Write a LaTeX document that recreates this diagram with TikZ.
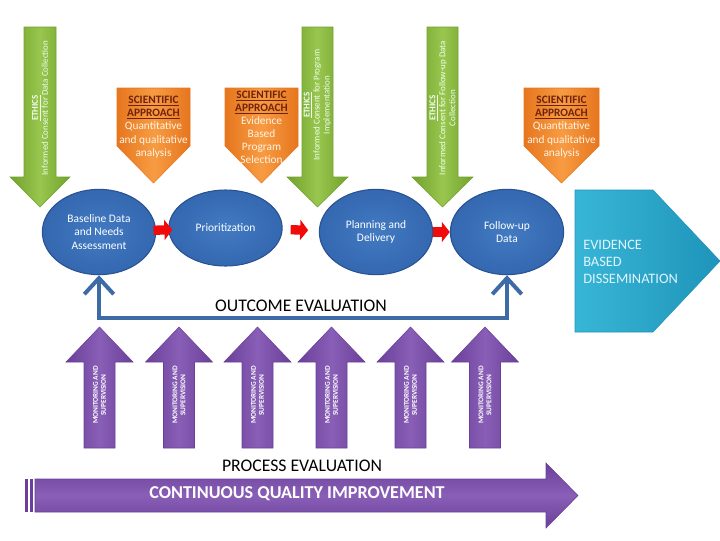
\documentclass[tikz,border=0pt]{standalone}
\usepackage{fontspec}
\setmainfont{Carlito}
\usepackage{tikz}
\usetikzlibrary{arrows.meta,shapes.geometric}

\definecolor{ethicsgreen}{RGB}{152,198,78}
\definecolor{ethicsedge}{RGB}{114,162,46}
\definecolor{sciorange}{RGB}{247,156,66}
\definecolor{sciedge}{RGB}{230,118,30}
\definecolor{scidark}{RGB}{112,34,12}
\definecolor{stepblue}{RGB}{66,122,194}
\definecolor{stepfill}{RGB}{52,104,176}
\definecolor{stepedge}{RGB}{40,82,146}
\definecolor{dissemteal}{RGB}{56,182,214}
\definecolor{dissemedge}{RGB}{30,148,186}
\definecolor{monpurple}{RGB}{136,94,182}
\definecolor{monedge}{RGB}{106,64,154}
\definecolor{outcomeblue}{RGB}{62,106,166}
\definecolor{flowred}{RGB}{240,10,10}

\begin{document}
\begin{tikzpicture}[x=0.75pt,y=0.75pt,yscale=-1,xscale=1,
  ethics/.style={draw=ethicsedge, line width=0.4pt, left color=ethicsedge, right color=ethicsedge, middle color=ethicsgreen},
  ethicstext/.style={rotate=90, align=center, text=white!94!green, font=\fontsize{6.7}{7.5}\selectfont, inner sep=0pt},
  science/.style={draw=sciedge, line width=0.4pt, left color=sciedge, right color=sciedge, middle color=sciorange},
  sciencetext/.style={align=center, text=white!90!orange, font=\fontsize{8.5}{10}\selectfont, inner sep=0pt},
  stepcirc/.style={ellipse, draw=stepedge, line width=0.8pt, inner color=stepblue, outer color=stepfill, minimum width=85pt, minimum height=64pt, align=center, text=white, font=\fontsize{8.6}{9.8}\selectfont, inner sep=0pt},
  flowarrow/.style={draw=flowred, line width=7pt, -{Triangle[length=6pt,width=15pt]}},
  outcome/.style={draw=outcomeblue, line width=3pt, >={Straight Barb[length=12pt,width=22pt]}, <->},
  monitor/.style={draw=monedge, line width=0.4pt, left color=monedge, right color=monedge, middle color=monpurple},
  monitortext/.style={rotate=90, align=center, text=white, font=\fontsize{5.5}{6}\selectfont\bfseries, inner sep=0pt},
  evaltext/.style={text=black, inner sep=0pt}
]
\useasboundingbox (0,0) rectangle (720,540);

%Down Arrows: ethics
\path [ethics] (24,27) -- (56,27) -- (56,177) -- (70,177) -- (40,207) -- (10,177) -- (24,177) -- cycle ;
\path [ethics] (302,27) -- (333,27) -- (333,177) -- (348,177) -- (317.5,207) -- (287,177) -- (302,177) -- cycle ;
\path [ethics] (427,27) -- (458,27) -- (458,177) -- (473,177) -- (442.5,207) -- (412,177) -- (427,177) -- cycle ;
% Text Node
\node [ethicstext] (eth1) at (40,108) {\underline{\textbf{ETHICS}}\\Informed Consent for Data Collection};
\node [ethicstext] (eth2) at (317.5,105) {\underline{\textbf{ETHICS}}\\Informed Consent for Program\\Implementation};
\node [ethicstext] (eth3) at (442.5,108) {\underline{\textbf{ETHICS}}\\Informed Consent for Follow-up Data\\Collection};

%Pentagons: scientific approach
\path [science] (117,88) -- (190,88) -- (190,146) -- (153.5,183) -- (117,146) -- cycle ;
\path [science] (225,88) -- (298,88) -- (298,146) -- (261.5,183) -- (225,146) -- cycle ;
\path [science] (524,88) -- (599,88) -- (599,146) -- (561.5,183) -- (524,146) -- cycle ;
% Text Node
\node [sciencetext] (sci1) at (153.5,127) {\textcolor{scidark}{\textbf{\underline{SCIENTIFIC}}}\\\textcolor{scidark}{\textbf{\underline{APPROACH}}}\\Quantitative\\and qualitative\\analysis};
\node [sciencetext, font=\fontsize{8.5}{9.8}\selectfont] (sci2) at (261.5,127) {\textcolor{scidark}{\textbf{\underline{SCIENTIFIC}}}\\\textcolor{scidark}{\textbf{\underline{APPROACH}}}\\Evidence\\Based\\Program\\Selection};
\node [sciencetext] (sci3) at (561.5,127) {\textcolor{scidark}{\textbf{\underline{SCIENTIFIC}}}\\\textcolor{scidark}{\textbf{\underline{APPROACH}}}\\Quantitative\\and qualitative\\analysis};

%Ellipses: program steps
\node [stepcirc] (base) at (99,232) {Baseline Data\\and Needs\\Assessment};
\node [stepcirc, minimum height=57pt] (prio) at (225.5,228) {Prioritization};
\node [stepcirc] (plan) at (376,232) {Planning and\\Delivery};
\node [stepcirc] (follow) at (507,232) {Follow-up\\Data};

%Straight Lines: red flow arrows
\draw [flowarrow, shorten <=-2pt, shorten >=-3pt] (base) -- (prio) ;
\draw [flowarrow, shorten <=6pt, shorten >=8pt] (prio) -- (plan) ;
\draw [flowarrow] (plan) -- (follow) ;

%Pentagon: dissemination
\path [draw=dissemedge, line width=0.4pt, left color=dissemteal, right color=dissemedge] (575,190) -- (653,190) -- (720,261) -- (653,332) -- (575,332) -- cycle ;
% Text Node
\node [anchor=west, align=left, text=white!88!cyan, font=\fontsize{10.8}{12.8}\selectfont, inner sep=0pt] (dissem) at (583,262) {EVIDENCE\\BASED\\DISSEMINATION};

% Text Node
\node [evaltext, font=\fontsize{13.3}{15}\selectfont] (outc) at (301,306) {OUTCOME EVALUATION};
\coordinate (oline) at (301,318);
%Connector: outcome evaluation
\draw [outcome] (base.south) -- (base.south |- oline) -| (follow.south) ;

%Up Arrows: monitoring and supervision
\path [monitor] (84,448) -- (84,362) -- (66,362) -- (99.5,327) -- (133,362) -- (115,362) -- (115,448) -- cycle ;
\path [monitor] (163.5,448) -- (163.5,362) -- (145.5,362) -- (179,327) -- (212.5,362) -- (194.5,362) -- (194.5,448) -- cycle ;
\path [monitor] (242,448) -- (242,362) -- (224,362) -- (257.5,327) -- (291,362) -- (273,362) -- (273,448) -- cycle ;
\path [monitor] (316,448) -- (316,362) -- (298,362) -- (331.5,327) -- (365,362) -- (347,362) -- (347,448) -- cycle ;
\path [monitor] (395,448) -- (395,362) -- (377,362) -- (410.5,327) -- (444,362) -- (426,362) -- (426,448) -- cycle ;
\path [monitor] (469.5,448) -- (469.5,362) -- (451.5,362) -- (485,327) -- (518.5,362) -- (500.5,362) -- (500.5,448) -- cycle ;
% Text Node
\node [monitortext] (mon1) at (99.5,395) {MONITORING AND\\SUPERVISION};
\node [monitortext] (mon2) at (179,395) {MONITORING AND\\SUPERVISION};
\node [monitortext] (mon3) at (257.5,395) {MONITORING AND\\SUPERVISION};
\node [monitortext] (mon4) at (331.5,395) {MONITORING AND\\SUPERVISION};
\node [monitortext] (mon5) at (410.5,395) {MONITORING AND\\SUPERVISION};
\node [monitortext] (mon6) at (485,395) {MONITORING AND\\SUPERVISION};

% Text Node
\node [evaltext, font=\fontsize{13.3}{15}\selectfont] (proc) at (302,466) {PROCESS EVALUATION};

%Striped Right Arrow: quality improvement
\fill [monedge] (25,479) rectangle (27.5,512) ;
\fill [monedge] (29.5,479) rectangle (33,512) ;
\path [draw=monedge, line width=0.4pt, top color=monedge, bottom color=monedge, middle color=monpurple] (35,479) -- (546,479) -- (546,463) -- (578,495.5) -- (546,528) -- (546,512) -- (35,512) -- cycle ;
% Text Node
\node [text=white, font=\fontsize{13.6}{15}\selectfont\bfseries, inner sep=0pt] (cqi) at (297,494) {CONTINUOUS QUALITY IMPROVEMENT};

\end{tikzpicture}
\end{document}
